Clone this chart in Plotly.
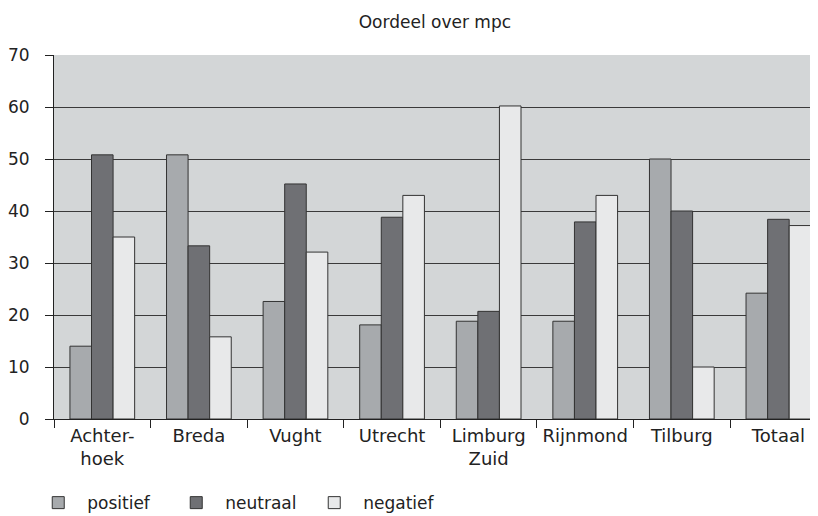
import plotly.graph_objects as go

regios = ["Achter-<br>hoek", "Breda", "Vught", "Utrecht", "Limburg<br>Zuid",
          "Rijnmond", "Tilburg", "Totaal"]
positief = [14.0, 50.8, 22.6, 18.1, 18.8, 18.8, 50.0, 24.2]
neutraal = [50.8, 33.3, 45.2, 38.8, 20.7, 37.9, 40.0, 38.4]
negatief = [35.0, 15.8, 32.1, 43.0, 60.2, 43.0, 10.0, 37.2]

font = "DejaVu Sans"
fig = go.Figure()
for naam, waarden, kleur in [("positief", positief, "#a7aaad"),
                             ("neutraal", neutraal, "#6f7074"),
                             ("negatief", negatief, "#e8e9ea")]:
    fig.add_trace(go.Bar(
        x=regios, y=waarden, name=naam,
        marker=dict(color=kleur, line=dict(color="#333333", width=1))
    ))

# the page body has an 8px margin, so the figure is 8px smaller and shifted
fig.update_layout(
    width=810, height=508,
    margin=dict(l=46, r=0, t=47, b=97, autoexpand=False),
    barmode="group", bargap=0.33, bargroupgap=0,
    paper_bgcolor="white", plot_bgcolor="#d3d6d7",
    font=dict(family=font, size=17, color="#222222"),
    title=dict(text="Oordeel over mpc", x=0.527, xanchor="center",
               y=1 - 14 / 508, yanchor="middle", yref="container",
               font=dict(size=17, color="#222222")),
    legend=dict(orientation="h", x=-0.0324, xanchor="left", y=-0.231,
                yanchor="middle", font=dict(size=17), itemwidth=48,
                entrywidth=75, entrywidthmode="pixels"),
    xaxis=dict(range=[-0.5, 7.41], tickson="boundaries", ticks="outside",
               ticklen=8, tickcolor="#222222", showline=True,
               linecolor="#222222", linewidth=1, showgrid=False,
               tickangle=0, tickfont=dict(size=18), automargin=False),
    yaxis=dict(range=[0, 70], dtick=10, ticks="outside", ticklen=8,
               tickcolor="#222222", showline=True, linecolor="#222222",
               linewidth=1, gridcolor="#3a3a3a", gridwidth=1,
               ticklabelstandoff=12, zeroline=False, automargin=False),
)

fig.write_html("out.html")
